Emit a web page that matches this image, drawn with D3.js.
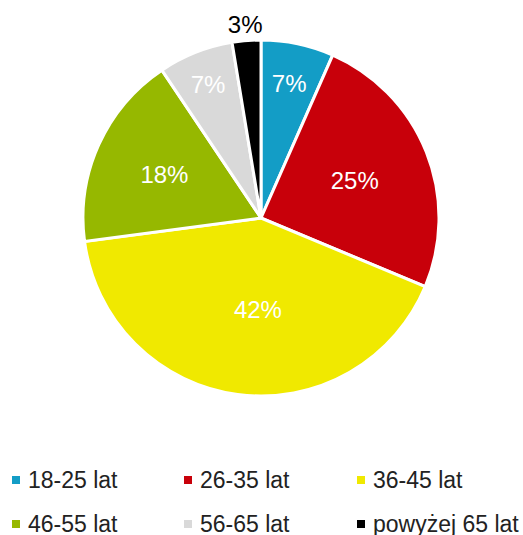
<!DOCTYPE html>
<html>
<head>
<meta charset="utf-8">
<script src="https://cdn.jsdelivr.net/npm/d3@7"></script>
<style>
  body { margin: 0; background: #fff; }
  svg { font-family: "Liberation Sans", Arial, sans-serif; }
</style>
</head>
<body>
<svg id="chart" width="523" height="535"></svg>
<script>
// data
var categories = ["18-25 lat", "26-35 lat", "36-45 lat", "46-55 lat", "56-65 lat", "powyżej 65 lat"];
var shares = [6.6, 24.7, 41.6, 17.7, 6.8, 2.6];
var colors = ["#139dc6", "#c8000a", "#f0e900", "#96b800", "#d9d9d9", "#000000"];

const cx = 261, cy = 218, radius = 178;
// label distance from centre per slice (Excel "best fit" look)
const labelR = [137, 101, 92, 106, 144, 194];
const labelShift = [0, 0, 9, 0, 0, 0];

const svg = d3.select('#chart');

const pie = d3.pie().sort(null).value(d => d);
const arcs = pie(shares);

const arc = d3.arc().innerRadius(0).outerRadius(radius);

const g = svg.append('g')
    .attr('transform', `translate(${cx},${cy})`);

g.selectAll('path')
    .data(arcs)
    .enter()
    .append('path')
    .attr('d', arc)
    .attr('fill', (d, i) => colors[i])
    .attr('stroke', '#fff')
    .attr('stroke-width', 3)
    .attr('stroke-linejoin', 'miter');

/* percent labels */
g.selectAll('text.value')
    .data(arcs)
    .enter()
    .append('text')
    .attr('class', 'value')
    .attr('x', (d, i) => labelR[i] * Math.sin((d.startAngle + d.endAngle) / 2) + labelShift[i])
    .attr('y', (d, i) => -labelR[i] * Math.cos((d.startAngle + d.endAngle) / 2))
    .attr('dy', '0.35em')
    .attr('text-anchor', 'middle')
    .attr('font-size', 24)
    .attr('fill', (d, i) => i === 5 ? '#000' : '#fff')
    .text(d => Math.round(d.data) + '%');

/* legend */
const cols = [12, 184, 357];
const rows = [480, 524];

const legend = svg.selectAll('g.legend')
    .data(categories)
    .enter()
    .append('g')
    .attr('class', 'legend')
    .attr('transform', (d, i) => `translate(${cols[i % 3]},${rows[Math.floor(i / 3)]})`);

legend.append('rect')
    .attr('x', 0)
    .attr('y', -4)
    .attr('width', 8)
    .attr('height', 8)
    .attr('fill', (d, i) => colors[i]);

legend.append('text')
    .attr('x', 16)
    .attr('y', 0)
    .attr('dy', '0.35em')
    .attr('font-size', 23)
    .attr('fill', '#222')
    .text(d => d);
</script>
</body>
</html>
